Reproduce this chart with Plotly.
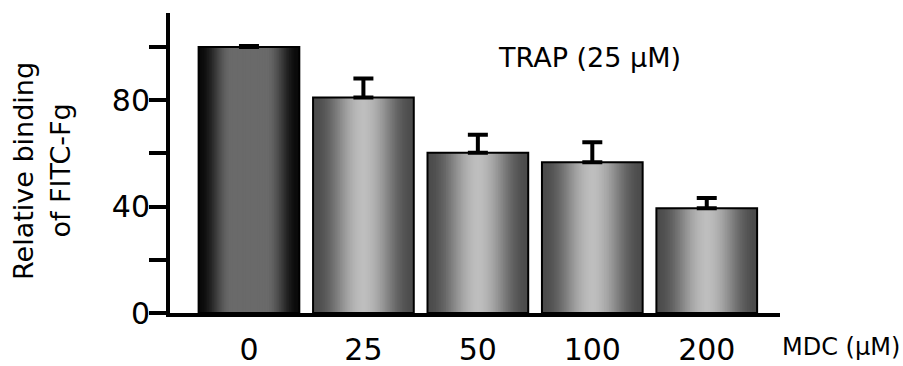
import math
import plotly.graph_objects as go

# ---- data ----
categories = ["0", "25", "50", "100", "200"]
binding = [100, 81, 60.3, 56.7, 39.4]
binding_err = [0.4, 7.2, 6.7, 7.5, 3.8]
y_tick_vals = [0, 20, 40, 60, 80, 100]
y_tick_text = ["0", "", "40", "", "80", ""]

# ---- style ----
FONT = "DejaVu Sans"
BAR_W = 0.88
N_LAYERS = 30
edge_cols = [(10, 10, 10)] + [(76, 76, 76)] * 4
center_cols = [(106, 106, 106)] + [(190, 190, 190)] * 4
plateau = [0.35, 0.0, 0.0, 0.0, 0.0]   # flat centre share of half width


def mix(a, b, t):
    return "rgb(%d,%d,%d)" % tuple(round(a[k] + (b[k] - a[k]) * t) for k in range(3))


def shade(d, p):
    # d: distance from bar centre in half-widths (0..1)
    if d <= p:
        return 1.0
    u = (d - p) / (1 - p)
    return 0.5 * (1 + math.cos(math.pi * u))


fig = go.Figure()
for i in range(N_LAYERS):
    frac = 1 - i / N_LAYERS
    cols = [mix(e, c, shade(frac, p)) for e, c, p in zip(edge_cols, center_cols, plateau)]
    fig.add_trace(go.Bar(
        x=categories, y=binding, width=BAR_W * frac,
        marker=dict(color=cols, line=dict(width=0)),
        showlegend=False, hoverinfo="skip",
    ))

# outline + error bars
fig.add_trace(go.Bar(
    x=categories, y=binding, width=BAR_W,
    marker=dict(color="rgba(0,0,0,0)", line=dict(color="black", width=2)),
    error_y=dict(type="data", symmetric=False, array=binding_err,
                 arrayminus=[0] * len(binding_err),
                 color="black", thickness=4, width=10),
    showlegend=False,
))

fig.update_layout(
    width=903, height=366,
    margin=dict(l=170, r=123, t=13, b=53),
    paper_bgcolor="white", plot_bgcolor="white",
    barmode="overlay",
    font=dict(family=FONT, color="black"),
    xaxis=dict(range=[-0.69, 4.64], showline=True, linecolor="black", linewidth=4,
               ticks="", showgrid=False, zeroline=False, automargin=False,
               tickfont=dict(size=30, family=FONT, color="black"),
               ticklabelstandoff=7),
    yaxis=dict(range=[0, 112.8], showline=True, linecolor="black", linewidth=4,
               tickvals=y_tick_vals, ticktext=y_tick_text, automargin=False,
               ticks="outside", ticklen=17, tickwidth=4, tickcolor="black",
               showgrid=False, zeroline=False, ticklabelstandoff=-7,
               tickfont=dict(size=30, family=FONT, color="black")),
    annotations=[
        dict(text="Relative binding", xref="paper", yref="paper", x=-0.239, y=0.474,
             textangle=-90, xanchor="center", yanchor="middle", showarrow=False,
             font=dict(size=27, family=FONT, color="black")),
        dict(text="of FITC-Fg", xref="paper", yref="paper", x=-0.179, y=0.474,
             textangle=-90, xanchor="center", yanchor="middle", showarrow=False,
             font=dict(size=27, family=FONT, color="black")),
        dict(text="TRAP (25 μM)", xref="paper", yref="paper", x=0.688, y=0.853,
             xanchor="center", yanchor="middle", showarrow=False,
             font=dict(size=27, family=FONT, color="black")),
        dict(text="MDC (μM)", xref="paper", yref="paper", x=1.0, y=-0.113,
             xanchor="left", yanchor="middle", showarrow=False,
             font=dict(size=24, family=FONT, color="black")),
    ],
)

fig.write_html("out.html", config={"displayModeBar": False},
               post_script="document.body.style.margin='0';")
